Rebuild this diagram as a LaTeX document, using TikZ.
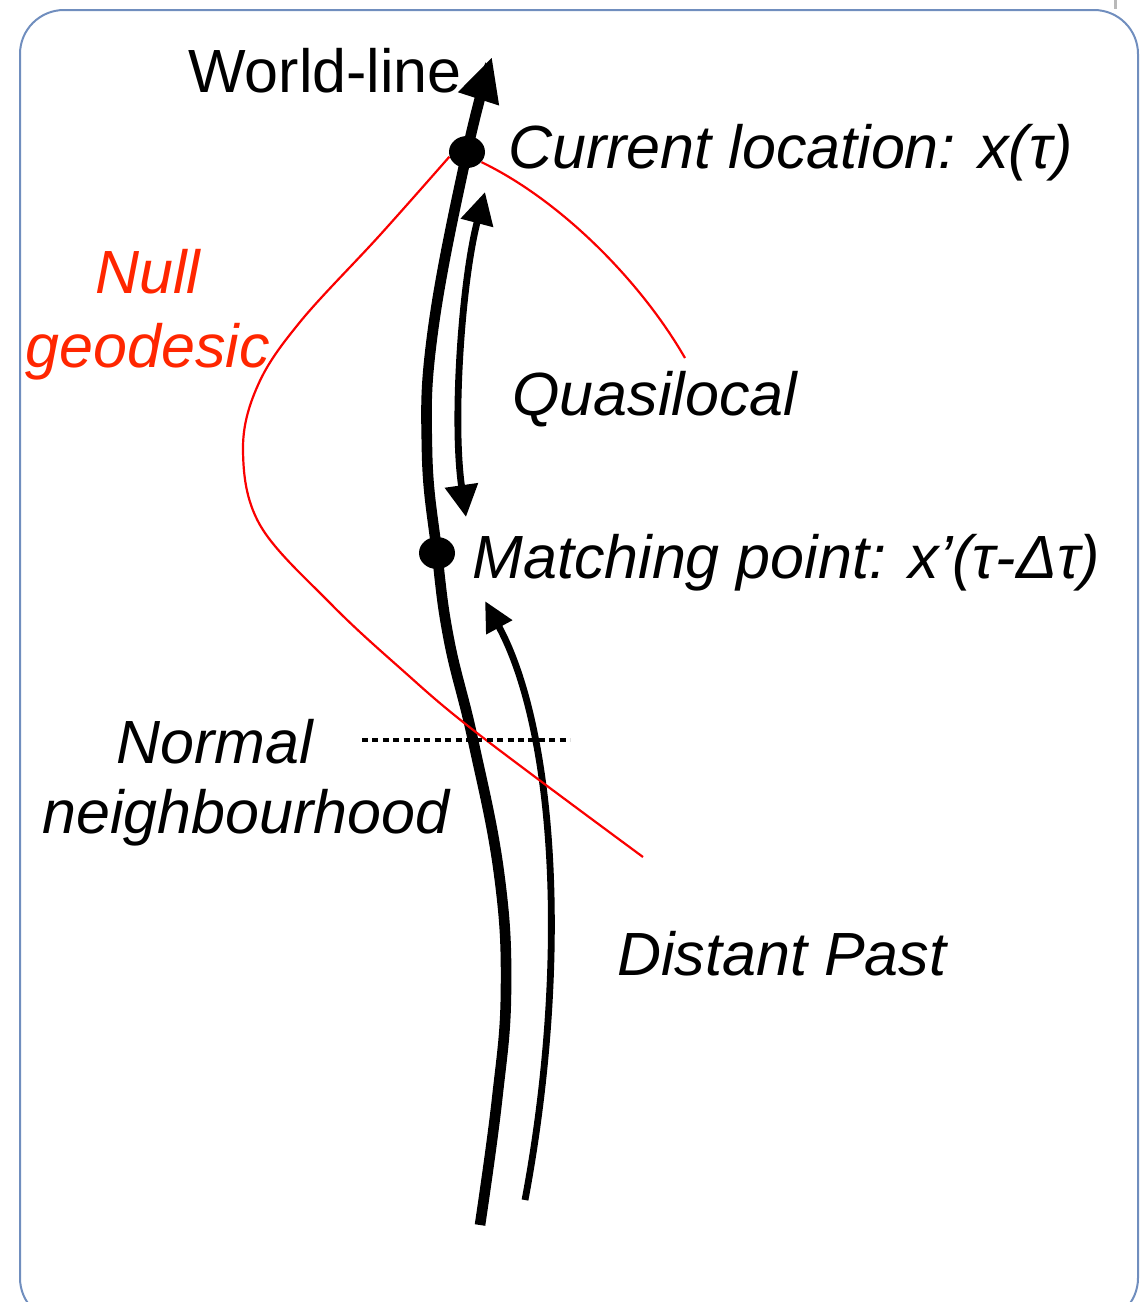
\documentclass[tikz,border=0pt]{standalone}
\usepackage{fontspec}
\setmainfont{Liberation Sans}
\usepackage{xcolor}
\usepackage{tikz}
\usetikzlibrary{arrows.meta, shapes.geometric}
\definecolor{framecol}{RGB}{112,142,190}
\definecolor{nullred}{RGB}{255,38,0}
\definecolor{rayred}{RGB}{250,0,0}
\newcommand{\labfont}{\fontsize{30.5}{36}\selectfont}
\tikzset{
  panel/.style={draw=framecol, line width=1pt, rounded corners=22pt},
  worldline/.style={line width=5.3pt, -{Triangle[length=22pt,width=20pt]}},
  quasi/.style={line width=3.4pt, {Triangle[length=16pt,width=16pt]}-{Triangle[length=16pt,width=16pt]}},
  past/.style={line width=3.4pt, -{Triangle[length=15pt,width=14pt]}},
  geodesic/.style={draw=rayred, line width=1.1pt},
  event/.style={ellipse, fill=black, minimum width=18pt, minimum height=16pt, inner sep=0pt},
  boundary/.style={line width=2.4pt, dash pattern=on 3pt off 2.2pt},
  lab/.style={font=\labfont\itshape, inner sep=0pt, anchor=base west},
  every node/.style={font=\labfont}
}

\begin{document}
\begin{tikzpicture}[x=0.5pt, y=-0.5pt]
    \useasboundingbox (0,0) rectangle (1141,1302);
    \clip (0,0) rectangle (1141,1302);
    \draw[panel] (20,10) rectangle (1138,1322);
    \draw[gray!55, line width=1.5pt] (1115,0) -- (1115,9);

    \node[event] (cur) at (467,152) {};
    \node[event] (match) at (437,553) {};
    \coordinate (wlbot) at (480,1225);
    \coordinate (wltop) at (492,57);
    \coordinate (qtop) at (485,192);
    \coordinate (qbot) at (466,517);
    \coordinate (dpbot) at (525,1200);
    \coordinate (dptop) at (485,601);
    \coordinate (nullL) at (643,857);
    \coordinate (nullR) at (685,358);
    \coordinate (nnL) at (362,740);
    \coordinate (nnR) at (570,740);

    \draw[worldline] plot[smooth, tension=0.7] coordinates {(wlbot) (497,1100) (506,990) (499,873) (473,740) (449,640) (match.center) (427,450) (433,330) (cur.center) (wltop)};
    \draw[quasi] (qtop) .. controls (462,280) and (452,420) .. (qbot);
    \draw[past] (dpbot) .. controls (570,960) and (555,730) .. (dptop);
    \draw[geodesic] plot[smooth, tension=0.6] coordinates {(cur.195) (380,235) (300,322) (258,385) (243,450) (260,525) (330,603) (400,668) (477,733) (nullL)};
    \draw[geodesic] (cur.-35) .. controls (560,200) and (640,280) .. (nullR);
    \draw[boundary] (nnL) -- (nnR);

    \node[inner sep=0pt, anchor=base west] (wl) at (188,92) {World-line};
    \node[lab] (curlab) at (508,168) {Current location: x(τ)};
    \node[lab, anchor=base, text=nullred] (null1) at (148,293) {Null};
    \node[lab, anchor=base, text=nullred] (null2) at (148,367) {geodesic};
    \node[lab] (quasilab) at (512,415) {Quasilocal};
    \node[lab] (matchlab) at (472,578) {Matching point: x’(τ-Δτ)};
    \node[lab, anchor=base] (normal) at (215,763) {Normal};
    \node[lab, anchor=base] (neigh) at (246,833) {neighbourhood};
    \node[lab] (pastlab) at (617,975) {Distant Past};
\end{tikzpicture}
\end{document}
